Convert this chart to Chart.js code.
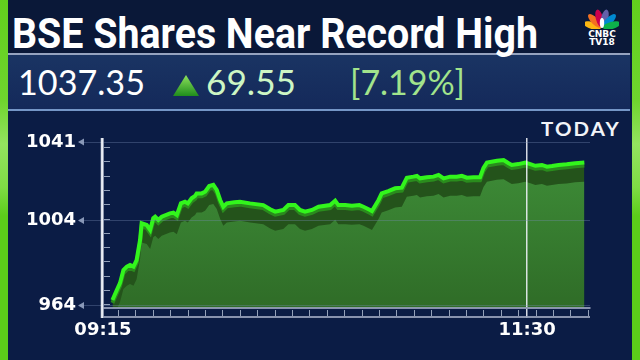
<!DOCTYPE html>
<html>
<head>
<meta charset="utf-8">
<script src="https://cdn.jsdelivr.net/npm/chart.js@4.4.0/dist/chart.umd.min.js"></script>
<style>
  body { margin: 0; width: 640px; height: 360px; overflow: hidden; position: relative; background: #0b1c45; }
  .frame { position: absolute; top: 0; width: 8px; height: 360px;
    background: linear-gradient(to bottom, #62cf1d 0%, #6fd52e 28%, #93e35f 40%, #7fdb45 52%, #5ccd1a 60%, #5ccd1a 100%); }
  #frameL { left: 0; }
  #frameR { left: 632px; }
  #titlebar { position: absolute; left: 8px; top: 0; width: 624px; height: 53px; background: #0a1838; }
  #quotebar { position: absolute; left: 8px; top: 53px; width: 622px; height: 54px;
    background: linear-gradient(to bottom, #1a3463, #14295a);
    border-top: 2px solid rgba(205, 215, 235, 0.7); border-bottom: 2px solid rgba(140, 175, 225, 0.8); }
  .txt { position: absolute; white-space: nowrap; line-height: 1; transform-origin: 0 0; }
  #title { left: 12px; top: 9px; font: 700 42px Roboto, sans-serif; color: #fff; }
  #last, #chg, #pct { top: 60px; font: 400 35px Lato, sans-serif; }
  #last { left: 18px; color: #fff; }
  #chg { left: 206px; color: #cdf6c4; }
  #pct { left: 350px; color: #a2e48c; }
  #arrow { position: absolute; left: 173px; top: 75px; }
  #today { left: 541px; top: 117px; font: 700 19px Lato, sans-serif; color: #f2f4f8; letter-spacing: 2px; }
  #logo { position: absolute; left: 585px; top: 7px; }
  .logotxt { position: absolute; left: 0; width: 34px; text-align: center; font: 700 9px "DejaVu Sans", sans-serif; color: #fff; }
  canvas { position: absolute; left: 0; top: 0; }
</style>
</head>
<body>
<div class="frame" id="frameL"></div>
<div class="frame" id="frameR"></div>
<div id="titlebar"></div>
<div id="quotebar"></div>
<div class="txt" id="title" data-w="526">BSE Shares Near Record High</div>
<div class="txt" id="last" data-w="127">1037.35</div>
<svg id="arrow" width="26" height="21">
  <defs>
    <linearGradient id="tri" x1="0" y1="0" x2="0" y2="1">
      <stop offset="0" stop-color="#8ee25c"/>
      <stop offset="1" stop-color="#1f8d1c"/>
    </linearGradient>
  </defs>
  <polygon points="13,0 26,21 0,21" fill="url(#tri)"/>
</svg>
<div class="txt" id="chg" data-w="90">69.55</div>
<div class="txt" id="pct" data-w="115">[7.19%]</div>
<div id="logo">
  <svg width="34" height="22">
    <g transform="translate(17,21)">
      <ellipse cx="0" cy="-10" rx="3.6" ry="9" fill="#fcb711" transform="rotate(-75)"/>
      <ellipse cx="0" cy="-10" rx="3.6" ry="9" fill="#f37021" transform="rotate(-45)"/>
      <ellipse cx="0" cy="-10" rx="3.6" ry="9" fill="#cc004c" transform="rotate(-15)"/>
      <ellipse cx="0" cy="-10" rx="3.6" ry="9" fill="#6460aa" transform="rotate(15)"/>
      <ellipse cx="0" cy="-10" rx="3.6" ry="9" fill="#0089d0" transform="rotate(45)"/>
      <ellipse cx="0" cy="-10" rx="3.6" ry="9" fill="#0db14b" transform="rotate(75)"/>
      <ellipse cx="0" cy="-5" rx="2.2" ry="5" fill="#fff"/>
    </g>
  </svg>
  <div class="logotxt" style="top:22px">CNBC</div>
  <div class="logotxt" style="top:30px">TV18</div>
</div>
<div class="txt" id="today" data-w="80">TODAY</div>
<canvas id="chart" width="640" height="360"></canvas>

<script>
// minutes after 09:15
const times = [3.0, 4.4, 5.4, 6.5, 7.6, 8.6, 9.7, 10.7, 11.8, 12.3,
  13.9, 15.0, 16.0, 16.6, 17.6, 18.7, 21.3, 22.4, 23.5, 24.8,
  26.1, 27.0, 28.2, 29.3, 29.8, 31.4, 32.5, 33.8, 35.1, 36.2,
  37.3, 38.3, 39.4, 41.8, 43.6, 46.8, 51.0, 53.2, 54.8, 57.4,
  59.0, 61.1, 62.7, 64.3, 66.5, 68.6, 72.3, 73.9, 74.9, 77.1,
  79.2, 81.6, 82.9, 85.0, 85.6, 87.7, 88.7, 90.8, 93.0, 95.1,
  96.7, 98.8, 99.9, 100.9, 103.1, 105.2, 106.8, 108.4, 110.5, 112.6,
  114.2, 115.8, 117.9, 120.0, 121.1, 122.2, 125.4, 127.5, 129.1, 130.1,
  132.2, 134.4, 136.0, 137.6, 139.7, 141.3, 142.9, 145.0, 147.6, 150.3,
  153.2]
const prices = [966.6, 971.3, 974.5, 980.7, 982.3, 983.1, 982.3, 985.4, 994.9, 1002.7,
  1001.9, 999.6, 1005.1, 1005.8, 1004.3, 1005.8, 1007.4, 1007.7, 1006.6, 1012.1,
  1012.9, 1012.1, 1014.5, 1015.6, 1016.8, 1016.8, 1017.6, 1020.3, 1020.8, 1018.4,
  1013.7, 1010.5, 1012.1, 1012.6, 1012.9, 1012.1, 1011.3, 1009.3, 1008.2, 1009.0,
  1011.3, 1011.3, 1009.0, 1008.2, 1009.0, 1010.5, 1011.3, 1013.4, 1011.3, 1011.3,
  1011.0, 1011.3, 1010.5, 1009.0, 1008.5, 1013.7, 1016.8, 1017.9, 1019.2, 1019.5,
  1024.2, 1024.7, 1025.0, 1023.9, 1024.4, 1024.7, 1025.5, 1023.9, 1024.7, 1024.7,
  1025.1, 1024.2, 1024.4, 1024.4, 1028.8, 1031.3, 1032.2, 1032.5, 1031.0, 1030.2,
  1030.6, 1031.3, 1030.6, 1029.8, 1030.2, 1029.4, 1029.7, 1030.2, 1030.5, 1031.0,
  1031.3]
const yTickValues = [964, 1004, 1041]
const xTickValues = [0, 135]
const xTickLabels = ['09:15', '11:30']

// squeeze the html texts to the widths they have on screen
document.querySelectorAll('[data-w]').forEach((el) => {
  const w = el.getBoundingClientRect().width
  el.style.transform = 'scaleX(' + (el.dataset.w / w) + ')'
})

const points = times.map((t, i) => ({x: t, y: prices[i]}))

const yMin = 962.8, yMax = 1042.9

const axisDecor = {
  id: 'axisDecor',
  afterDraw(chart) {
    const {ctx, chartArea: a, scales: {y}} = chart
    ctx.save()
    // the white value axis line
    ctx.strokeStyle = 'rgba(235,238,245,0.95)'
    ctx.lineWidth = 2.5
    ctx.beginPath()
    ctx.moveTo(a.left - 1, a.top)
    ctx.lineTo(a.left - 1, a.bottom + 10)
    ctx.stroke()
    ctx.strokeStyle = 'rgba(195,205,225,0.75)'
    ctx.lineWidth = 1
    ctx.beginPath()
    for (let py = a.top + 9; py < a.bottom - 2; py += 14.3) {
      ctx.moveTo(a.left + 1, Math.round(py) + 0.5)
      ctx.lineTo(a.left + 7, Math.round(py) + 0.5)
    }
    for (let px = a.left + 15; px < a.right; px += 17.4) {
      ctx.moveTo(Math.round(px) + 0.5, a.bottom + 2)
      ctx.lineTo(Math.round(px) + 0.5, a.bottom + 8)
    }
    ctx.stroke()
    ctx.strokeStyle = 'rgba(150,160,185,0.9)'
    ctx.lineWidth = 2
    ctx.beginPath()
    ctx.moveTo(a.left, a.bottom + 9)
    ctx.lineTo(a.right, a.bottom + 9)
    ctx.stroke()
    ctx.fillStyle = 'rgba(150,165,195,0.9)'
    y.ticks.forEach((t) => {
      const py = y.getPixelForValue(t.value)
      ctx.beginPath()
      ctx.moveTo(78, py)
      ctx.lineTo(84, py - 3.5)
      ctx.lineTo(84, py + 3.5)
      ctx.closePath()
      ctx.fill()
    })
    ctx.restore()
  }
}

Chart.defaults.font.family = 'DejaVu Sans'

new Chart(document.getElementById('chart'), {
  type: 'line',
  data: {
    datasets: [{
      label: 'BSE',
      data: points,
      order: 0,
      borderColor: '#32f51c',
      borderWidth: 4,
      fill: false,
      pointRadius: 0,
      tension: 0
    }, {
      label: 'face',
      data: points,
      yAxisID: 'ys',
      order: 1,
      borderWidth: 0,
      pointRadius: 0,
      tension: 0,
      fill: 'start',
      backgroundColor: (c) => {
        const area = c.chart.chartArea
        if (!area) return '#3b8a2f'
        const g = c.chart.ctx.createLinearGradient(0, area.top, 0, area.bottom)
        g.addColorStop(0, '#40913a')
        g.addColorStop(1, '#2f6c27')
        return g
      }
    }, {
      label: 'band',
      data: points,
      yAxisID: 'yb',
      order: 2,
      borderColor: '#2a8c1d',
      borderWidth: 4,
      pointRadius: 0,
      tension: 0,
      fill: 'start',
      backgroundColor: '#24531b'
    }]
  },
  options: {
    responsive: false,
    animation: false,
    layout: { padding: { left: 0, top: 138, right: 50, bottom: 22 } },
    plugins: { legend: { display: false }, tooltip: { enabled: false } },
    scales: {
      x: {
        type: 'linear',
        min: 0,
        max: 155,
        afterFit: (s) => { s.height = 30 },
        afterBuildTicks: (s) => { s.ticks = xTickValues.map((v) => ({value: v})) },
        ticks: {
          autoSkip: false,
          maxRotation: 0,
          padding: 2,
          color: '#ffffff',
          font: { size: 18, weight: 'bold' },
          callback: (v) => xTickLabels[xTickValues.indexOf(v)]
        },
        grid: {
          z: 1,
          color: 'rgba(235,238,245,0.9)',
          lineWidth: 1.5,
          tickLength: 10
        },
        border: {
          display: true,
          z: 1,
          color: 'rgba(150,160,185,0.9)',
          width: 2,
          dash: (c) => (c.type === 'scale' ? [6, 6] : [])
        }
      },
      y: {
        min: yMin,
        max: yMax,
        afterFit: (s) => { s.width = 103 },
        afterBuildTicks: (s) => { s.ticks = yTickValues.map((v) => ({value: v})) },
        ticks: {
          padding: 5,
          color: '#ffffff',
          font: { size: 18, weight: 'bold' },
          callback: (v) => String(v)
        },
        grid: { z: 1, color: 'rgba(120,140,180,0.35)', lineWidth: 1, tickLength: 22 },
        border: { display: false }
      },
      yb: { display: false, min: yMin + 1.4, max: yMax + 1.4 },
      ys: { display: false, min: yMin + 9, max: yMax + 9 }
    }
  },
  plugins: [axisDecor]
})
</script>
</body>
</html>
